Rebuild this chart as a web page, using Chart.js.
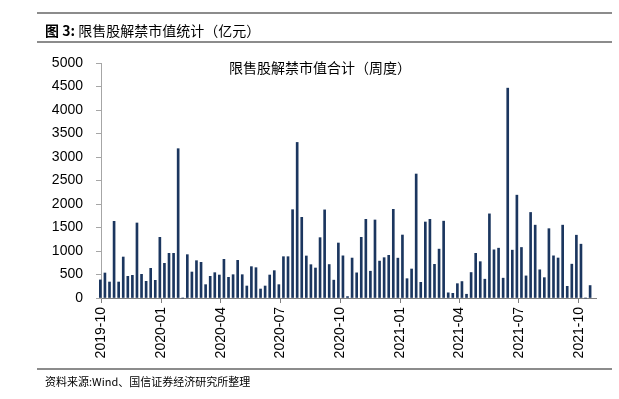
<!DOCTYPE html>
<html>
<head>
<meta charset="utf-8">
<script src="https://cdn.jsdelivr.net/npm/chart.js@4"></script>
<style>
  html, body { margin: 0; padding: 0; background: #fff; }
  #page { position: relative; width: 619px; height: 399px; overflow: hidden; }
  #chart { position: absolute; left: 0; top: 0; }
  .rule { position: absolute; left: 37px; width: 575px; height: 2px; background: #8c8c8c; }
  .txt { position: absolute; font-family: 'Noto Sans CJK SC', sans-serif; color: #000; white-space: nowrap; }
</style>
</head>
<body>
<div id="page">
  <canvas id="chart" width="619" height="399"></canvas>
  <div class="rule" style="top:12px"></div>
  <div class="txt" style="left:45px; top:20px; font-size:14px; line-height:20px;"><b>图 3:</b> 限售股解禁市值统计（亿元）</div>
  <div class="rule" style="top:41px"></div>
  <div class="txt" style="left:229px; top:57px; font-size:14px; line-height:20px;">限售股解禁市值合计（周度）</div>
  <div class="rule" style="top:368px"></div>
  <div class="txt" style="left:45px; top:373px; font-size:11px; line-height:16px;">资料来源:Wind、国信证券经济研究所整理</div>
</div>
<script>
(function app() {

    // weekly release value, 亿元, one bar per week starting from the week of 2019-09-30
    const firstWeek = '2019-09-30';
    const weeklyValues = [
        385, 532, 340, 1631, 340, 872, 461, 482, 1596, 504,
        355, 631, 376, 1291, 738, 950, 950, 3177, 0, 922,
        553, 794, 759, 284, 461, 539, 489, 823, 440, 496,
        801, 496, 255, 667, 645, 191, 255, 489, 582, 284,
        879, 879, 1879, 3310, 1716, 894, 709, 638, 1284, 1875,
        712, 380, 1170, 897, 30, 850, 535, 1291, 1674, 570,
        1660, 785, 858, 908, 1887, 848, 1340, 411, 617, 2638,
        333, 1617, 1674, 716, 1040, 1635, 110, 99, 305, 350,
        80, 542, 950, 773, 400, 1790, 1025, 1060, 422, 4465,
        1018, 2188, 1075, 470, 1820, 1550, 600, 433, 1475, 897,
        851, 1550, 248, 720, 1336, 1145, 0, 265
    ];
    const tickLabels = ['2019-10', '2020-01', '2020-04', '2020-07', '2020-10', '2021-01', '2021-04', '2021-07', '2021-10'];
    const axisEnd = '2021-10-27';

    const DAY = 86400000;
    const origin = Date.UTC(2019, 9, 1);
    const toDay = str => {
        const p = str.split('-').map(Number);
        return (Date.UTC(p[0], p[1] - 1, p[2] || 1) - origin) / DAY;
    };

    const start = toDay(firstWeek);
    const points = weeklyValues.map((v, i) => ({ x: start + i * 7, y: v }));
    const tickDays = tickLabels.map(t => toDay(t));
    const labelByDay = {};
    tickDays.forEach((d, i) => labelByDay[d] = tickLabels[i]);

    const tickFont = { family: "'Liberation Sans', Arial, sans-serif", size: 14 };

    new Chart(document.getElementById('chart'), {
        type: 'bar',
        data: {
            datasets: [{
                data: points,
                backgroundColor: '#1b365f',
                barThickness: 2,
                clip: false
            }]
        },
        options: {
            responsive: false,
            animation: false,
            devicePixelRatio: 1,
            layout: { padding: { top: 63, right: 23, bottom: 0, left: 0 } },
            plugins: {
                legend: { display: false },
                tooltip: { enabled: false }
            },
            scales: {
                x: {
                    type: 'linear',
                    offset: false,
                    min: 0,
                    max: toDay(axisEnd),
                    afterBuildTicks: scale => { scale.ticks = tickDays.map(d => ({ value: d })); },
                    afterFit: scale => { scale.height = 101; },
                    grid: { offset: false, drawOnChartArea: false, tickLength: 5, color: '#808080' },
                    border: { color: '#808080', width: 1 },
                    ticks: {
                        autoSkip: false,
                        maxRotation: 90,
                        minRotation: 90,
                        padding: 4,
                        color: '#000',
                        font: tickFont,
                        callback: value => labelByDay[value] || ''
                    }
                },
                y: {
                    min: 0,
                    max: 5000,
                    afterFit: scale => { scale.width = 101; },
                    grid: { drawOnChartArea: false, tickLength: 5, color: '#a6a6a6' },
                    border: { color: '#a6a6a6', width: 1 },
                    ticks: {
                        stepSize: 500,
                        padding: 13,
                        color: '#000',
                        font: tickFont,
                        callback: value => String(value)
                    }
                }
            }
        }
    });
})();
</script>
</body>
</html>
